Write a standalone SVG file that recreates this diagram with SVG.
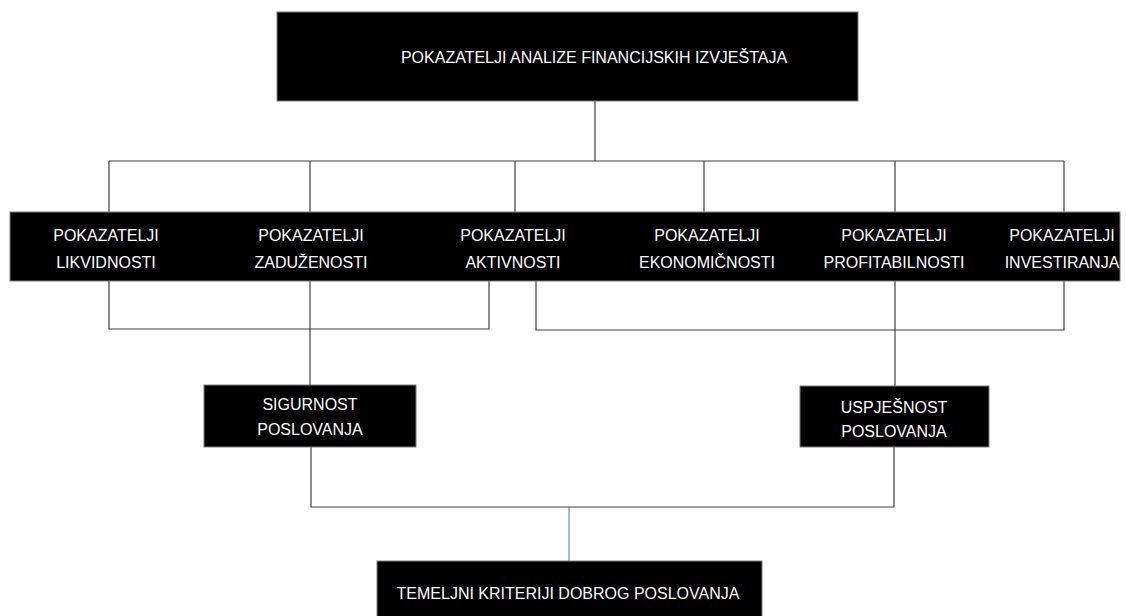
<svg xmlns="http://www.w3.org/2000/svg" width="1126" height="616" viewBox="0 0 1126 616">
  <style>
    .box { fill: #000000; stroke: #7f7f7f; stroke-width: 1; }
    .lbl { font-family: "Liberation Sans", Arial, sans-serif; font-size: 16px; fill: #ffffff; text-anchor: middle; }
    .ln { fill: none; stroke: #404040; stroke-width: 1.2; }
    .lnb { fill: none; stroke: #4472c4; stroke-width: 1; }
  </style>
  <rect width="1126" height="616" fill="#ffffff"/>

  <g id="connectors">
    <path class="ln" d="M595,101 V161"/>
    <path class="ln" d="M109,161 H1064"/>
    <path class="ln" d="M109,161 V212 M310,161 V212 M515,161 V212 M704,161 V212 M895,161 V212 M1064,161 V212"/>
    <path class="ln" d="M109,281 V329 H489 V281"/>
    <path class="ln" d="M536,281 V330 H1064 V281"/>
    <path class="ln" d="M310,281 V385"/>
    <path class="ln" d="M895,281 V386"/>
    <path class="ln" d="M311,447 V507 H894 V447"/>
    <path class="lnb" d="M569,507 V561"/>
  </g>

  <g id="node-top">
    <rect class="box" x="277" y="12" width="581" height="89"/>
    <text class="lbl" x="594" y="63">POKAZATELJI ANALIZE FINANCIJSKIH IZVJEŠTAJA</text>
  </g>

  <g id="band">
    <rect class="box" x="10" y="212" width="1110" height="69"/>
  </g>
  <g id="node-likvidnosti">
    <text class="lbl" x="106" y="241">POKAZATELJI</text>
    <text class="lbl" x="106" y="268">LIKVIDNOSTI</text>
  </g>
  <g id="node-zaduzenosti">
    <text class="lbl" x="311" y="241">POKAZATELJI</text>
    <text class="lbl" x="311" y="268">ZADUŽENOSTI</text>
  </g>
  <g id="node-aktivnosti">
    <text class="lbl" x="513" y="241">POKAZATELJI</text>
    <text class="lbl" x="513" y="268">AKTIVNOSTI</text>
  </g>
  <g id="node-ekonomicnosti">
    <text class="lbl" x="707" y="241">POKAZATELJI</text>
    <text class="lbl" x="707" y="268">EKONOMIČNOSTI</text>
  </g>
  <g id="node-profitabilnosti">
    <text class="lbl" x="894" y="241">POKAZATELJI</text>
    <text class="lbl" x="894" y="268">PROFITABILNOSTI</text>
  </g>
  <g id="node-investiranja">
    <text class="lbl" x="1062" y="241">POKAZATELJI</text>
    <text class="lbl" x="1062" y="268">INVESTIRANJA</text>
  </g>

  <g id="node-sigurnost">
    <rect class="box" x="204" y="385" width="212" height="62"/>
    <text class="lbl" x="310" y="410">SIGURNOST</text>
    <text class="lbl" x="310" y="435">POSLOVANJA</text>
  </g>

  <g id="node-uspjesnost">
    <rect class="box" x="800" y="386" width="189" height="61"/>
    <text class="lbl" x="894" y="413">USPJEŠNOST</text>
    <text class="lbl" x="894" y="437">POSLOVANJA</text>
  </g>

  <g id="node-temeljni">
    <rect class="box" x="377" y="561" width="385" height="60"/>
    <text class="lbl" x="568" y="599">TEMELJNI KRITERIJI DOBROG POSLOVANJA</text>
  </g>
</svg>
